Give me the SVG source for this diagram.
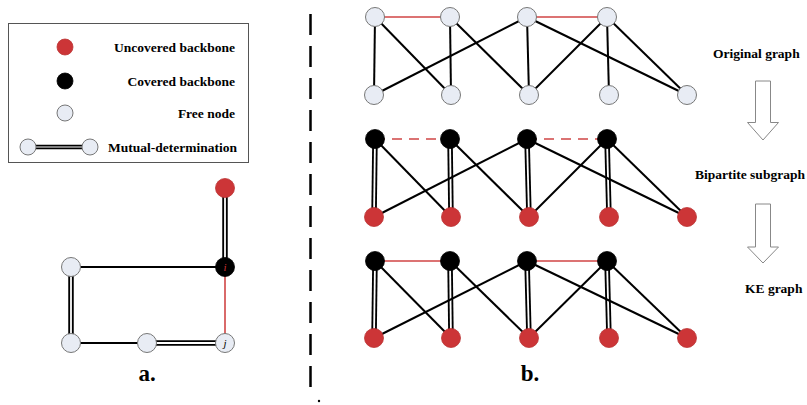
<svg xmlns="http://www.w3.org/2000/svg" width="807" height="405" viewBox="0 0 807 405">
<defs>
<style>
.free{fill:#E8ECF4;stroke:#777;stroke-width:1}
.red{fill:#CC3537;stroke:#B33;stroke-width:0.8}
.blk{fill:#000;stroke:#000;stroke-width:0.8}
.e{stroke:#000;stroke-width:2;fill:none}
.r{stroke:#D04545;stroke-width:1.6;fill:none}
.rd{stroke:#D04545;stroke-width:1.6;fill:none;stroke-dasharray:10 7}
.dbo{stroke:#000;stroke-width:5.5;fill:none}
.dbi{stroke:#fff;stroke-width:1.8;fill:none}
.t{font-family:"Liberation Serif","Times New Roman",serif;font-weight:bold;font-size:13.5px;fill:#000}
.tr{font-family:"Liberation Serif","Times New Roman",serif;font-weight:bold;font-size:13.5px;fill:#000}
.big{font-family:"Liberation Serif","Times New Roman",serif;font-weight:bold;font-size:23px;fill:#000}
.arr{fill:#fff;stroke:#888;stroke-width:1}
</style>
</defs>
<rect width="807" height="405" fill="#fff"/>

<!-- Legend -->
<g id="legend">
<rect x="8.5" y="23.5" width="240" height="139" fill="#fff" stroke="#555" stroke-width="1"/>
<circle cx="65" cy="47" r="8" class="red"/>
<text x="235" y="51.5" text-anchor="end" class="t">Uncovered backbone</text>
<circle cx="65" cy="81" r="8" class="blk"/>
<text x="235" y="85.5" text-anchor="end" class="t">Covered backbone</text>
<circle cx="65" cy="113" r="8" class="free"/>
<text x="235" y="117.5" text-anchor="end" class="t">Free node</text>
<line x1="36" y1="147" x2="82" y2="147" stroke="#000" stroke-width="4.5"/>
<line x1="36" y1="147" x2="82" y2="147" stroke="#fff" stroke-width="1.2"/>
<circle cx="28" cy="147" r="8" class="free"/>
<circle cx="90" cy="147" r="8" class="free"/>
<text x="237" y="151.5" text-anchor="end" class="t">Mutual-determination</text>
</g>

<!-- Part a connectors -->
<g id="connectors-a">
<line x1="225" y1="188" x2="225" y2="267" class="dbo"/>
<line x1="225" y1="188" x2="225" y2="267" class="dbi"/>
<line x1="71" y1="267" x2="71" y2="343" class="dbo"/>
<line x1="71" y1="267" x2="71" y2="343" class="dbi"/>
<line x1="147" y1="343" x2="225" y2="343" class="dbo"/>
<line x1="147" y1="343" x2="225" y2="343" class="dbi"/>
<line x1="71" y1="267" x2="225" y2="267" class="e"/>
<line x1="71" y1="343" x2="147" y2="343" class="e"/>
<line x1="225" y1="267" x2="225" y2="343" class="r"/>
</g>
<g id="a-top"><circle cx="225" cy="188" r="9.5" class="red"/></g>
<g id="a-i"><circle cx="225" cy="267" r="9.5" class="blk"/>
<text x="225" y="271" text-anchor="middle" font-family="Liberation Serif, serif" font-style="italic" font-size="11" fill="#C33">i</text></g>
<g id="a-left"><circle cx="71" cy="267" r="9.5" class="free"/></g>
<g id="a-bl"><circle cx="71" cy="343" r="9.5" class="free"/></g>
<g id="a-bm"><circle cx="147" cy="343" r="9.5" class="free"/></g>
<g id="a-j"><circle cx="225" cy="343" r="9.5" class="free"/>
<text x="225" y="347" text-anchor="middle" font-family="Liberation Serif, serif" font-style="italic" font-size="11" fill="#000">j</text></g>
<text x="147" y="381" text-anchor="middle" class="big">a.</text>

<!-- Divider -->
<line x1="310.5" y1="14" x2="310.5" y2="398" stroke="#000" stroke-width="2.5" stroke-dasharray="21 11"/>
<circle cx="319" cy="401" r="1.2" fill="#000"/>

<!-- Row 1: Original graph -->
<g id="connectors-r1">
<line x1="375" y1="17" x2="450" y2="17" class="r"/>
<line x1="527" y1="17" x2="607" y2="17" class="r"/>
<line x1="375" y1="17" x2="374" y2="95" class="e"/>
<line x1="375" y1="17" x2="451" y2="95" class="e"/>
<line x1="450" y1="17" x2="451" y2="95" class="e"/>
<line x1="450" y1="17" x2="529" y2="95" class="e"/>
<line x1="527" y1="17" x2="374" y2="95" class="e"/>
<line x1="527" y1="17" x2="529" y2="95" class="e"/>
<line x1="527" y1="17" x2="687" y2="95" class="e"/>
<line x1="607" y1="17" x2="529" y2="95" class="e"/>
<line x1="607" y1="17" x2="609" y2="95" class="e"/>
<line x1="607" y1="17" x2="687" y2="95" class="e"/>
</g>
<g id="r1-t1"><circle cx="375" cy="17" r="9.5" class="free"/></g>
<g id="r1-t2"><circle cx="450" cy="17" r="9.5" class="free"/></g>
<g id="r1-t3"><circle cx="527" cy="17" r="9.5" class="free"/></g>
<g id="r1-t4"><circle cx="607" cy="17" r="9.5" class="free"/></g>
<g id="r1-b1"><circle cx="374" cy="95" r="9.5" class="free"/></g>
<g id="r1-b2"><circle cx="451" cy="95" r="9.5" class="free"/></g>
<g id="r1-b3"><circle cx="529" cy="95" r="9.5" class="free"/></g>
<g id="r1-b4"><circle cx="609" cy="95" r="9.5" class="free"/></g>
<g id="r1-b5"><circle cx="687" cy="95" r="9.5" class="free"/></g>

<!-- Row 2: Bipartite subgraph -->
<g id="connectors-r2">
<line x1="375" y1="139" x2="450" y2="139" class="rd"/>
<line x1="527" y1="139" x2="607" y2="139" class="rd"/>
<line x1="375" y1="139" x2="374" y2="217" class="dbo"/>
<line x1="375" y1="139" x2="374" y2="217" class="dbi"/>
<line x1="450" y1="139" x2="451" y2="217" class="dbo"/>
<line x1="450" y1="139" x2="451" y2="217" class="dbi"/>
<line x1="527" y1="139" x2="529" y2="217" class="dbo"/>
<line x1="527" y1="139" x2="529" y2="217" class="dbi"/>
<line x1="607" y1="139" x2="609" y2="217" class="dbo"/>
<line x1="607" y1="139" x2="609" y2="217" class="dbi"/>
<line x1="375" y1="139" x2="451" y2="217" class="e"/>
<line x1="450" y1="139" x2="529" y2="217" class="e"/>
<line x1="527" y1="139" x2="374" y2="217" class="e"/>
<line x1="527" y1="139" x2="687" y2="217" class="e"/>
<line x1="607" y1="139" x2="529" y2="217" class="e"/>
<line x1="607" y1="139" x2="687" y2="217" class="e"/>
</g>
<g id="r2-t1"><circle cx="375" cy="139" r="9.5" class="blk"/></g>
<g id="r2-t2"><circle cx="450" cy="139" r="9.5" class="blk"/></g>
<g id="r2-t3"><circle cx="527" cy="139" r="9.5" class="blk"/></g>
<g id="r2-t4"><circle cx="607" cy="139" r="9.5" class="blk"/></g>
<g id="r2-b1"><circle cx="374" cy="217" r="9.5" class="red"/></g>
<g id="r2-b2"><circle cx="451" cy="217" r="9.5" class="red"/></g>
<g id="r2-b3"><circle cx="529" cy="217" r="9.5" class="red"/></g>
<g id="r2-b4"><circle cx="609" cy="217" r="9.5" class="red"/></g>
<g id="r2-b5"><circle cx="687" cy="217" r="9.5" class="red"/></g>

<!-- Row 3: KE graph -->
<g id="connectors-r3">
<line x1="375" y1="261" x2="450" y2="261" class="r"/>
<line x1="527" y1="261" x2="607" y2="261" class="r"/>
<line x1="375" y1="261" x2="374" y2="338" class="dbo"/>
<line x1="375" y1="261" x2="374" y2="338" class="dbi"/>
<line x1="450" y1="261" x2="451" y2="338" class="dbo"/>
<line x1="450" y1="261" x2="451" y2="338" class="dbi"/>
<line x1="527" y1="261" x2="529" y2="338" class="dbo"/>
<line x1="527" y1="261" x2="529" y2="338" class="dbi"/>
<line x1="607" y1="261" x2="609" y2="338" class="dbo"/>
<line x1="607" y1="261" x2="609" y2="338" class="dbi"/>
<line x1="375" y1="261" x2="451" y2="338" class="e"/>
<line x1="450" y1="261" x2="529" y2="338" class="e"/>
<line x1="527" y1="261" x2="374" y2="338" class="e"/>
<line x1="527" y1="261" x2="687" y2="338" class="e"/>
<line x1="607" y1="261" x2="529" y2="338" class="e"/>
<line x1="607" y1="261" x2="687" y2="338" class="e"/>
</g>
<g id="r3-t1"><circle cx="375" cy="261" r="9.5" class="blk"/></g>
<g id="r3-t2"><circle cx="450" cy="261" r="9.5" class="blk"/></g>
<g id="r3-t3"><circle cx="527" cy="261" r="9.5" class="blk"/></g>
<g id="r3-t4"><circle cx="607" cy="261" r="9.5" class="blk"/></g>
<g id="r3-b1"><circle cx="374" cy="338" r="9.5" class="red"/></g>
<g id="r3-b2"><circle cx="451" cy="338" r="9.5" class="red"/></g>
<g id="r3-b3"><circle cx="529" cy="338" r="9.5" class="red"/></g>
<g id="r3-b4"><circle cx="609" cy="338" r="9.5" class="red"/></g>
<g id="r3-b5"><circle cx="687" cy="338" r="9.5" class="red"/></g>

<text x="530" y="381" text-anchor="middle" class="big">b.</text>

<!-- Right labels and arrows -->
<text x="713" y="58" class="tr">Original graph</text>
<text x="695" y="179" class="tr">Bipartite subgraph</text>
<text x="745" y="293" class="tr">KE graph</text>
<g id="arrow1"><path d="M755.5 81 H770.5 V122.5 H778.5 L763 140 L747.5 122.5 H755.5 Z" class="arr"/></g>
<g id="arrow2"><path d="M755.5 204 H770.5 V247 H778.5 L763 263 L747.5 247 H755.5 Z" class="arr"/></g>
</svg>
